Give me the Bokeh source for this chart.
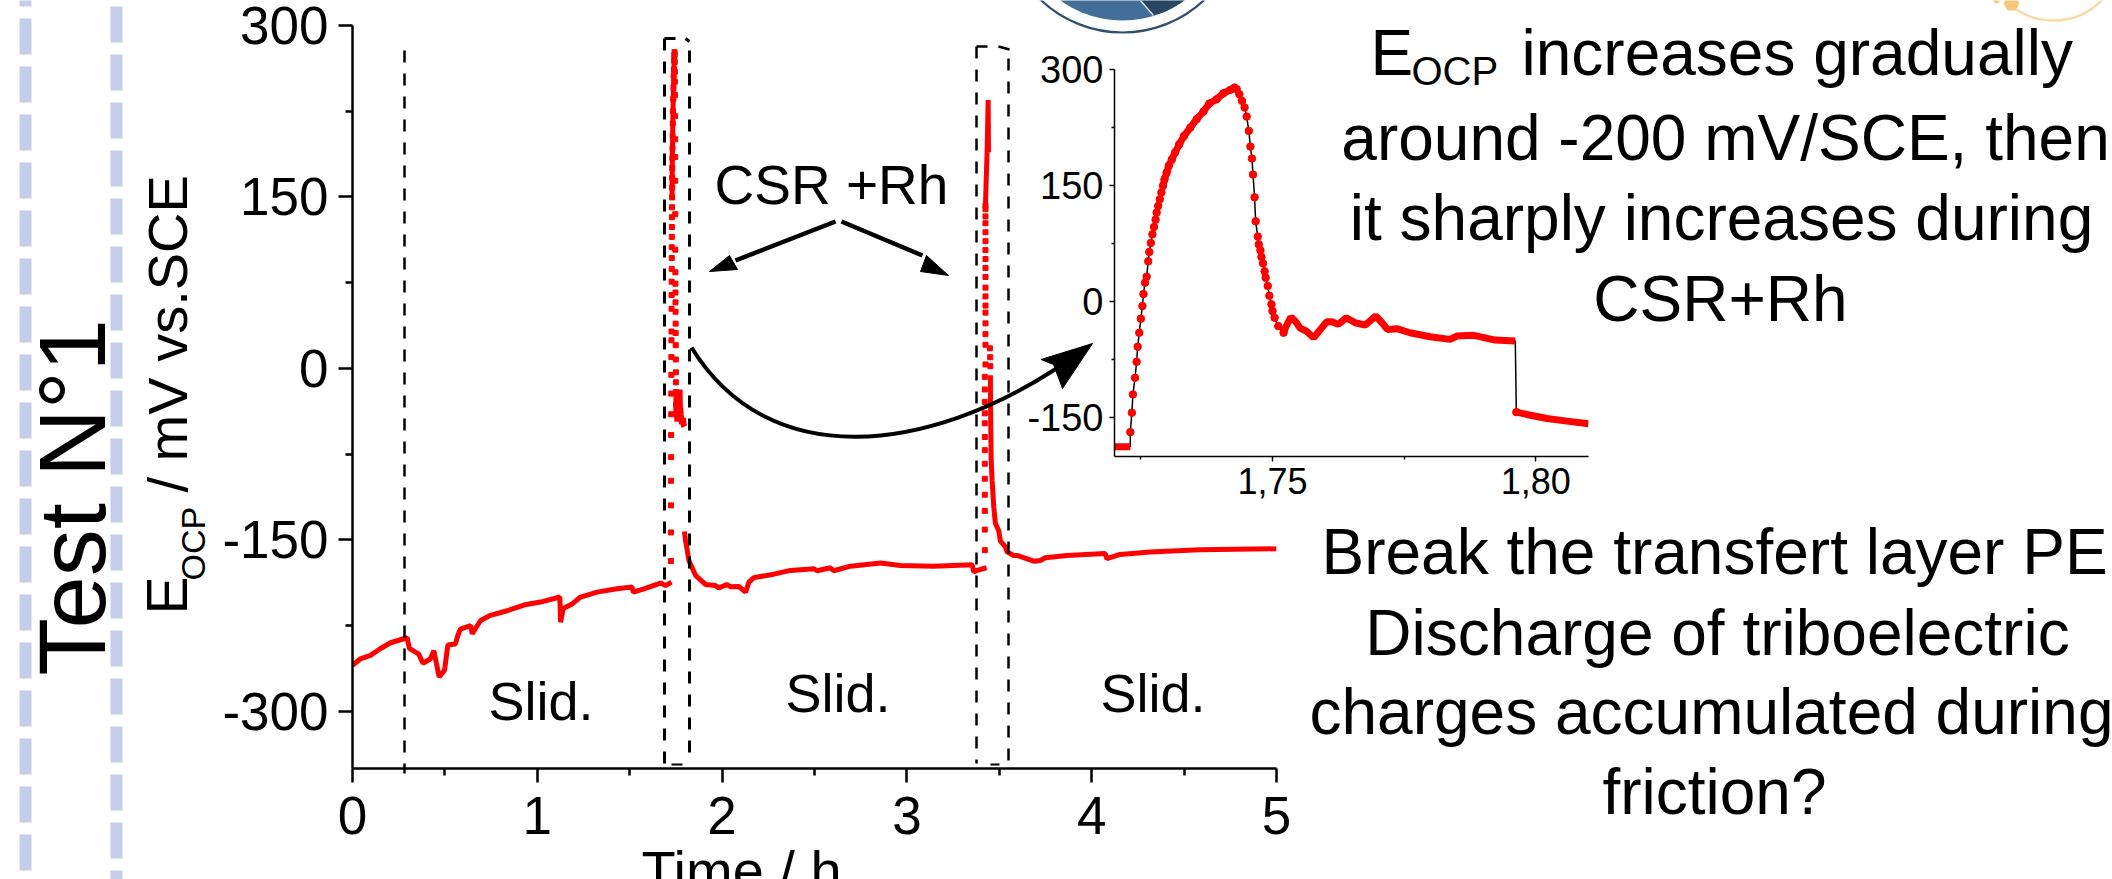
from bokeh.plotting import figure
from bokeh.models import Range1d, FixedTicker
from bokeh.core.properties import value
from bokeh.embed import file_html
from bokeh.resources import INLINE
import math

FONT = "Liberation Sans"

# ---- data ----
x_ticks = [0, 1, 2, 3, 4, 5]
x_minor = [0.5, 1.5, 2.5, 3.5, 4.5]
y_ticks = [-300, -150, 0, 150, 300]
y_minor = [-225, -75, 75, 225]
inset_x_ticks = [1.75, 1.80]
inset_x_minor = [1.725, 1.775]

# first sliding stage
t_slide1 = [0, .043, .097, .152, .206, .278, .296, .308, .359, .381, .422, .44, .469, .498, .516, .557, .57, .584, .639, .648, .693, .747, .837, .927, 1.017, 1.122, 1.126, 1.14, 1.189, 1.234, 1.324, 1.432, 1.513, 1.519, 1.577, 1.667, 1.694, 1.726]
e_slide1 = [-259.8, -254, -251, -245, -240, -236.5, -235.6, -245, -250, -258, -254, -247, -270, -264, -242, -241, -233.6, -228, -225, -232, -220.5, -216, -212, -207, -204.4, -200, -222, -210, -206, -200, -195.7, -192.8, -191.3, -195.7, -192.8, -187.8, -190, -187]

# first CSR+Rh: flat start
t_flat = [1.7200, 1.7206, 1.7212, 1.7218, 1.7224, 1.7230]
e_flat = [-187.5, -187.5, -187.5, -187.5, -187.5, -187.5]
# rising, individually visible points
t_rise = [1.7230, 1.7233, 1.7235, 1.7239, 1.7242, 1.7244, 1.7247, 1.7250, 1.7253, 1.7255, 1.7258, 1.7261, 1.7264, 1.7266, 1.7269, 1.7272, 1.7275, 1.7278, 1.7280, 1.7283, 1.7286, 1.7289]
e_rise = [-168.5, -143.5, -119.8, -98.3, -77.6, -58.2, -40.1, -22, -5.6, 9.9, 24.6, 32.3, 52.2, 64.2, 75.9, 87.1, 96.6, 106, 115.1, 123.7, 132.3, 141]
# rising, dense part up to the peak
t_top = [1.7292, 1.7295, 1.7299, 1.7303, 1.7309, 1.7315, 1.7323, 1.7332, 1.7344, 1.7356, 1.7369, 1.7380, 1.7394, 1.7407, 1.7420, 1.7428]
e_top = [149.6, 158.2, 166.8, 175.4, 184, 192.7, 203.4, 214.2, 225, 235.8, 245.7, 256, 261.6, 269.4, 273.7, 276.7]
# falling
t_fall = [1.7432, 1.7437, 1.7442, 1.7447, 1.7451, 1.7455, 1.7458, 1.7461, 1.7463, 1.7466, 1.7468, 1.7472, 1.7474, 1.7477, 1.7479, 1.7482, 1.7485, 1.7487, 1.7491, 1.7494, 1.7498, 1.7500, 1.7504, 1.7511, 1.7521]
e_fall = [274.6, 268.1, 259.5, 250.9, 239.2, 220.7, 200.4, 184.9, 164.2, 134.9, 103.9, 84.1, 74.1, 66.4, 57.8, 49.6, 39.2, 31, 20.3, 7.8, -3.4, -12.1, -20.7, -31.5, -40.1]
# plateau
t_plateau = [1.7521, 1.7526, 1.7535, 1.7543, 1.7553, 1.7564, 1.7578, 1.7591, 1.7603, 1.7613, 1.7625, 1.7640, 1.7657, 1.7676, 1.7696, 1.7708, 1.7718, 1.7736, 1.7761, 1.7799, 1.7837, 1.7850, 1.7882, 1.7923, 1.7961]
e_plateau = [-40.1, -31.5, -19.8, -25, -34.5, -37.9, -46.6, -35.8, -25.9, -25.9, -29.3, -20.7, -27.2, -30.2, -18.5, -27.2, -35.8, -34.9, -40.1, -45.3, -48.7, -44.4, -43.5, -49.6, -50.9]
# second sliding stage (starts with the drop after the first CSR+Rh)
t_slide2 = [1.7963, 1.7983, 1.8021, 1.8059, 1.81, 1.82, 1.856, 1.91, 1.964, 1.982, 2.027, 2.045, 2.09, 2.127, 2.145, 2.172, 2.28, 2.37, 2.497, 2.514, 2.586, 2.604, 2.695, 2.857, 2.965, 3.146, 3.353, 3.362, 3.38, 3.431]
e_slide2 = [-142.7, -145.7, -150.9, -154.3, -157.8, -168, -181, -189, -190, -192, -189, -191, -190.7, -195.7, -187, -183, -180, -176.7, -175.3, -177, -174.4, -177, -173, -170.3, -172.4, -173, -171.8, -178, -176.7, -174.4]

# second CSR+Rh
t_rise2 = [3.4216, 3.4216, 3.4216, 3.4216, 3.4216, 3.4216, 3.4216, 3.4216, 3.4216, 3.4216, 3.4216, 3.4216, 3.4216, 3.4252, 3.4252, 3.4252, 3.4252, 3.4252, 3.4252, 3.4252, 3.4252, 3.4252, 3.4252, 3.4252, 3.4252, 3.4252, 3.4252, 3.4252, 3.4252, 3.4252, 3.4252, 3.449, 3.4507, 3.4515]
e_rise2 = [-159, -141, -124.6, -110.5, -96.5, -83.4, -71.5, -60, -48, -39.3, -29.3, -18.4, -7.4, 3.5, 20.7, 30, 39.4, 48.8, 55, 63, 70.7, 80, 87.9, 95.7, 103.5, 111.3, 119.1, 127, 133, 139.4, 142.6, 17.6, 9.8, 2]
t_top2 = [3.4252, 3.429, 3.434, 3.4397, 3.4415]
e_top2 = [142.6, 164.4, 189.5, 234.8, 189]
t_slide3 = [3.452, 3.4524, 3.456, 3.461, 3.47, 3.479, 3.497, 3.506, 3.533, 3.542, 3.578, 3.596, 3.686, 3.722, 3.749, 3.866, 4.073, 4.082, 4.154, 4.316, 4.587, 5.0]
e_slide3 = [-5.9, -29.3, -79, -98, -121, -135.6, -142, -151, -156, -160.5, -163.7, -163.6, -168.6, -168, -165.6, -163.6, -162, -166.5, -162.7, -160.7, -158.7, -157.8]

# ---- main chart: frame from x 352 to 1276, y 25 to 768 on the page ----
W, H = 2112, 879
RED = "#FF0000"


def placed(left, top):
    return {"position": "absolute", "left": f"{left}px", "top": f"{top}px"}


main = figure(width=W, height=H, x_range=Range1d(0, 5), y_range=Range1d(-350, 300),
              output_backend="svg", toolbar_location=None,
              min_border_left=352, min_border_right=W - 1276, min_border_top=25, min_border_bottom=H - 768,
              styles=placed(0, 0))
main.outline_line_color = None
main.grid.visible = False
main.line(t_slide1, e_slide1, line_color=RED, line_width=5)
main.line(t_slide2, e_slide2, line_color=RED, line_width=5)
main.line(t_slide3, e_slide3, line_color=RED, line_width=5)
main.line(t_top, e_top, line_color=RED, line_width=5)
main.line(t_top2, e_top2, line_color=RED, line_width=5)
main.line(t_plateau, e_plateau, line_color=RED, line_width=6)
main.scatter(t_rise + t_top + t_fall, e_rise + e_top + e_fall, marker="square", size=5, color=RED)
main.scatter(t_rise2, e_rise2, marker="square", size=5, color=RED)
main.xaxis.ticker = FixedTicker(ticks=x_ticks, minor_ticks=x_minor)
main.yaxis.ticker = FixedTicker(ticks=y_ticks, minor_ticks=y_minor)
main.xaxis.major_label_overrides = {v: str(v) for v in x_ticks}
main.yaxis.major_label_overrides = {v: str(v) for v in y_ticks}
for ax in (main.xaxis[0], main.yaxis[0]):
    ax.axis_line_width = 2.5
    ax.major_tick_line_width = 2.5
    ax.minor_tick_line_width = 2.5
    ax.major_tick_out = 14
    ax.major_tick_in = 0
    ax.minor_tick_out = 7
    ax.minor_tick_in = 0
    ax.major_label_text_font = FONT
    ax.major_label_text_font_size = "53px"
    ax.major_label_text_color = "black"
main.xaxis[0].major_label_standoff = 14
main.yaxis[0].major_label_standoff = 10

# ---- inset ----
IL, IR, IT, IB = 120, 5, 22, 60
IFW, IFH = 474, 387
inset = figure(width=IL + IFW + IR, height=IT + IFH + IB, x_range=Range1d(1.72, 1.81), y_range=Range1d(-200, 300),
               output_backend="svg", toolbar_location=None,
               min_border_left=IL, min_border_right=IR, min_border_top=IT, min_border_bottom=IB,
               background_fill_color=None, border_fill_color=None,
               styles=placed(1114 - IL, 69 - IT))
inset.outline_line_color = None
inset.grid.visible = False
i_t = t_flat + t_rise + t_top + t_fall + t_plateau + t_slide2[:5]
i_e = e_flat + e_rise + e_top + e_fall + e_plateau + e_slide2[:5]
inset.line(i_t, i_e, line_color="black", line_width=1.5)
inset.line(t_flat, e_flat, line_color=RED, line_width=7)
inset.line(t_top, e_top, line_color=RED, line_width=7)
inset.line(t_plateau, e_plateau, line_color=RED, line_width=7)
inset.line(t_slide2[:5], e_slide2[:5], line_color=RED, line_width=7)
inset.scatter(t_rise + t_top + t_fall + t_slide2[:1], e_rise + e_top + e_fall + e_slide2[:1], marker="circle", size=7.5, color=RED)
inset.xaxis.ticker = FixedTicker(ticks=inset_x_ticks, minor_ticks=inset_x_minor)
inset.yaxis.ticker = FixedTicker(ticks=y_ticks, minor_ticks=y_minor)
inset.xaxis.major_label_overrides = {1.75: "1,75", 1.80: "1,80"}
inset.yaxis.major_label_overrides = {v: str(v) for v in y_ticks}
for ax in (inset.xaxis[0], inset.yaxis[0]):
    ax.axis_line_width = 1.5
    ax.major_tick_line_width = 1.5
    ax.minor_tick_line_width = 1.5
    ax.major_tick_out = 5
    ax.major_tick_in = 0
    ax.minor_tick_out = 3
    ax.minor_tick_in = 0
    ax.major_label_text_font = FONT
    ax.major_label_text_color = "black"
    ax.major_label_standoff = 6
inset.xaxis[0].major_label_text_font_size = "36px"
inset.yaxis[0].major_label_text_font_size = "38px"

# ---- page overlay: ranges equal the pixel position on the page ----
page = figure(width=W, height=H, x_range=Range1d(0, W), y_range=Range1d(H, 0),
              x_axis_type=None, y_axis_type=None, output_backend="svg", toolbar_location=None,
              min_border=0, background_fill_color=None, border_fill_color=None,
              styles=placed(0, 0))
page.outline_line_color = None
page.grid.visible = False

BASE_SHIFT = 0.31  # the text box sits this many font sizes past the wanted baseline


def txt(x, y, s, size, align="left", angle=0.0, base="alphabetic"):
    if base == "alphabetic":
        if angle:
            x -= BASE_SHIFT * size
        else:
            y -= BASE_SHIFT * size
    page.text(x=[x], y=[y], text=[s], text_font=value(FONT), text_font_size=value(f"{size}px"),
              text_align=align, text_baseline=base, angle=angle, text_color="black")


# frame decoration
BLUE = "#C2CEEA"
page.line([25, 25], [-30, 879], line_color=BLUE, line_width=12, line_dash="36 12")
page.line([116, 116], [6, 879], line_color=BLUE, line_width=12, line_dash="36 12")

# logos cut by the top edge
page.circle(x=[1122], y=[-87], radius=119, fill_color=None, line_color="#2C4F72", line_width=2.2)
page.circle(x=[1122], y=[-86], radius=106, fill_color="#426E99", line_color=None)
page.patch([1140, 1153, 1165, 1175, 1184], [0, 15, 10.9, 5.8, 0], fill_color="#2B4663", line_color=None)
page.line([1140, 1153], [0, 15], line_color="#E8EEF4", line_width=1.2)
page.circle(x=[2053], y=[-48], radius=68, fill_color=None, line_color="#FAD9A8", line_width=2.5)
page.scatter(x=[2011], y=[3], marker="hex", size=16, fill_color="#F8C77E", line_color=None)
page.scatter(x=[1996], y=[0], marker="circle", size=6, fill_color="#F8C77E", line_color=None)

# dashed guides
DASH = "12 11"
page.line([404, 404], [50, 773], line_color="black", line_width=2.5, line_dash=DASH)
for xs, top, w, (a, b), (c, d) in [((664, 689), 38, 3, (664, 675), (685, 689)),
                                    ((976, 1008), 46, 2.5, (976, 987), (998, 1009))]:
    page.line([xs[0], xs[0]], [top, 763], line_color="black", line_width=w, line_dash=DASH)
    page.line([xs[1], xs[1]], [top + 12, 763], line_color="black", line_width=w, line_dash=DASH)
    page.line([a, b], [top, top], line_color="black", line_width=w)
    page.line([c, d], [top, top + 3], line_color="black", line_width=w)
page.line([671, 682], [764, 764], line_color="black", line_width=2)
page.line([990, 999], [764, 764], line_color="black", line_width=2)

# arrows
page.line([835, 735], [221, 260], line_color="black", line_width=4.5)
page.patch([709, 737, 729], [271, 269, 255], fill_color="black", line_color="black")
page.line([841, 922], [221, 255], line_color="black", line_width=4.5)
page.patch([948, 920, 926], [275, 271, 255], fill_color="black", line_color="black")
page.bezier(x0=[691], y0=[347], x1=[1056], y1=[368], cx0=[770], cy0=[475], cx1=[930], cy1=[450],
            line_color="black", line_width=4)
page.patch([1092, 1040.5, 1053, 1062], [343, 359, 364, 388], fill_color="black", line_color="black")

# texts
txt(101, 675, "Test N°1", 94, angle=math.pi / 2)
txt(184, 614, "E", 57, angle=math.pi / 2)
txt(203, 580, "OCP", 34, angle=math.pi / 2)
txt(184, 492, "/ mV vs.SCE", 56, angle=math.pi / 2)
txt(741, 838, "Time / h", 56, align="center", base="top")
txt(831, 202, "CSR +Rh", 55, align="center")
txt(488, 717, "Slid.", 54)
txt(785, 709, "Slid.", 54)
txt(1100, 709, "Slid.", 54)

txt(1370, 72, "E", 64)
txt(1411, 83, "OCP", 40)
txt(1521, 72, "increases gradually", 64)
txt(1725, 157, "around -200 mV/SCE, then", 64, align="center")
txt(1721, 237, "it sharply increases during", 64, align="center")
txt(1720, 318, "CSR+Rh", 64, align="center")

txt(1714, 571, "Break the transfert layer PE", 64, align="center")
txt(1717, 652, "Discharge of triboelectric", 64, align="center")
txt(1711, 731, "charges accumulated during", 64, align="center")
txt(1714, 811, "friction?", 64, align="center")

# three roots stacked at fixed places on the page
open("out.html", "w").write(file_html([main, inset, page], INLINE))
